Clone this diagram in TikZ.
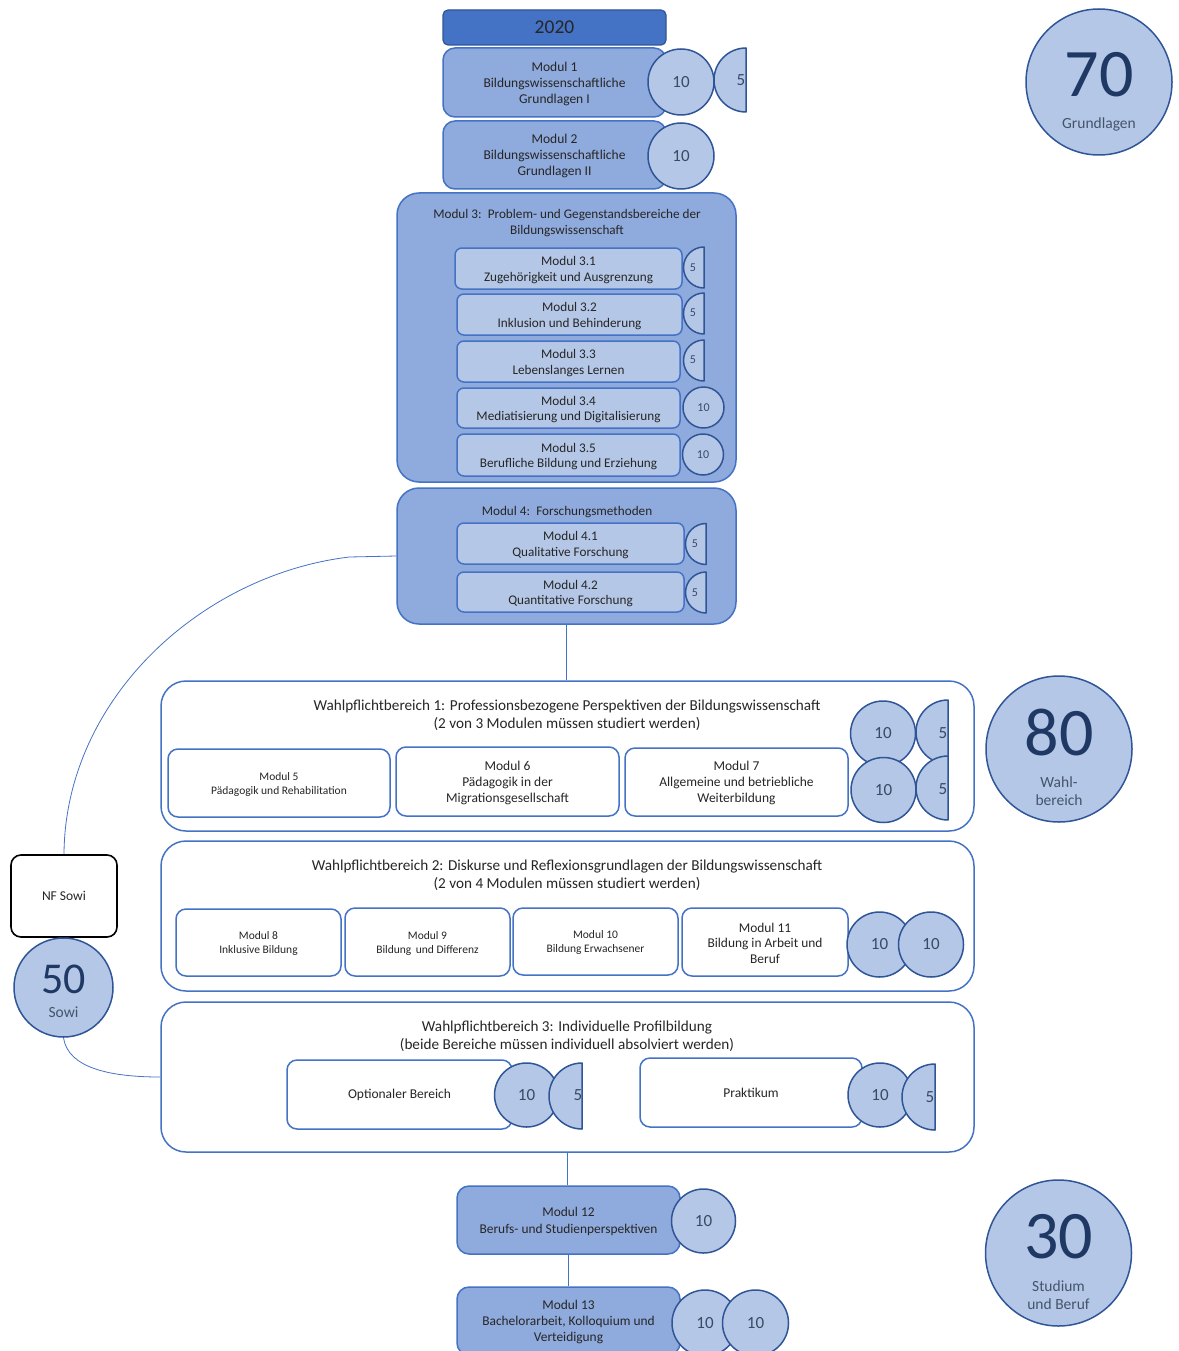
\documentclass[tikz,border=0pt]{standalone}
\usepackage{fontspec}
\setmainfont{Carlito}
\usetikzlibrary{positioning}

\definecolor{hdrblue}{HTML}{4472C4}
\definecolor{edgeblue}{HTML}{2F5597}
\definecolor{modblue}{HTML}{8FAADC}
\definecolor{subblue}{HTML}{B4C7E7}
\definecolor{navy}{HTML}{1F3864}
\definecolor{slate}{HTML}{44546A}
\definecolor{txt}{HTML}{262626}
\definecolor{cptxt}{HTML}{3B4A63}

\newcommand{\fs}[2]{\fontsize{#1}{#2}\selectfont}

\tikzset{
  hdr/.style={draw=edgeblue, fill=hdrblue, rounded corners=5, line width=1.2,
    minimum width=223, minimum height=35, font=\fs{19.5}{22}, text=txt},
  modbox/.style={draw=hdrblue, fill=modblue, rounded corners=12, line width=1.5,
    align=center, text=txt, font=\fs{13.5}{16}, inner sep=0},
  bigbox/.style={draw=hdrblue, fill=modblue, rounded corners=22, line width=1.5},
  subbox/.style={draw=hdrblue, fill=subblue, rounded corners=7, line width=1.5,
    align=center, text=txt, font=\fs{13.2}{15.5}, inner sep=0},
  wpbox/.style={draw=hdrblue, fill=white, rounded corners=25, line width=1.5},
  wbox/.style={draw=hdrblue, fill=white, rounded corners=10, line width=1.5,
    align=center, text=txt, inner sep=0},
  title/.style={align=center, text=txt, inner sep=0},
  cp/.style={circle, draw=edgeblue, fill=subblue, line width=1.5, inner sep=0,
    text=cptxt, font=\fs{17}{20}},
  halfcp/.style={draw=edgeblue, fill=subblue, line width=1.5},
  cptext/.style={text=cptxt, inner sep=0, font=\fs{17}{20}},
  bigcp/.style={circle, draw=edgeblue, fill=subblue, line width=1.5, minimum size=146},
  bignum/.style={text=navy, inner sep=0, font=\fs{68}{68}},
  biglab/.style={text=slate, inner sep=0, align=center, font=\fs{15.5}{18}},
  link/.style={draw=hdrblue, line width=0.8}
}

\begin{document}
\begin{tikzpicture}[x=1pt, y=-1pt, line join=round]
\useasboundingbox (0,0) rectangle (1178,1351);

% Grundlagen
\node[hdr] (y2020) at (554.5,27.5) {2020};
\node[modbox, minimum width=223, minimum height=69] (m1) at (554.5,82.5) {\rule{0pt}{12pt}Modul 1\\Bildungswissenschaftliche\\Grundlagen I};
\node[cp, minimum size=66] (m1_10) at (681,82) {10};
\draw[halfcp] (746,112) arc[start angle=90, end angle=270, radius=32] -- cycle;
\node[cptext] (m1_5) at (741,80) {5};

\node[modbox, minimum width=223, minimum height=68] (m2) at (554.5,155) {\rule{0pt}{12pt}Modul 2\\Bildungswissenschaftliche\\Grundlagen II};
\node[cp, minimum size=66] (m2_10) at (681,156) {10};

% Modul 3
\node[bigbox, minimum width=339, minimum height=289] (m3) at (566.5,337.5) {};
\node[title, font=\fs{13.2}{16}] (m3_title) at (567,223.5) {Modul 3:\, Problem- und Gegenstandsbereiche der\\Bildungswissenschaft};
\node[subbox, minimum width=227, minimum height=41] (m3_1) at (568.5,268.5) {\rule{0pt}{12pt}Modul 3.1\\Zugehörigkeit und Ausgrenzung};
\node[subbox, minimum width=225, minimum height=41] (m3_2) at (569.5,314.5) {\rule{0pt}{12pt}Modul 3.2\\Inklusion und Behinderung};
\node[subbox, minimum width=223, minimum height=41] (m3_3) at (568.5,361.5) {\rule{0pt}{12pt}Modul 3.3\\Lebenslanges Lernen};
\node[subbox, minimum width=223, minimum height=40] (m3_4) at (568.5,408) {\rule{0pt}{12pt}Modul 3.4\\Mediatisierung und Digitalisierung};
\node[subbox, minimum width=223, minimum height=42] (m3_5) at (568.5,455) {\rule{0pt}{12pt}Modul 3.5\\Berufliche Bildung und Erziehung};
\draw[halfcp] (704,288) arc[start angle=90, end angle=270, radius=20.5] -- cycle;
\node[cptext, font=\fs{12}{14}] (m3_1_5) at (693,268) {5};
\draw[halfcp] (704,334) arc[start angle=90, end angle=270, radius=20.5] -- cycle;
\node[cptext, font=\fs{12}{14}] (m3_2_5) at (693,313) {5};
\draw[halfcp] (704,381) arc[start angle=90, end angle=270, radius=20.5] -- cycle;
\node[cptext, font=\fs{12}{14}] (m3_3_5) at (693,360) {5};
\node[cp, minimum size=41, font=\fs{12}{14}] (m3_4_10) at (703.5,407.5) {10};
\node[cp, minimum size=41, font=\fs{12}{14}] (m3_5_10) at (703,454.5) {10};

% Modul 4
\node[bigbox, minimum width=339, minimum height=136] (m4) at (566.5,556) {};
\node[title, font=\fs{13.2}{16}] (m4_title) at (567,512.5) {Modul 4:\, Forschungsmethoden};
\node[subbox, minimum width=227, minimum height=41] (m4_1) at (570.5,543.5) {\rule{0pt}{12pt}Modul 4.1\\Qualitative Forschung};
\node[subbox, minimum width=227, minimum height=40] (m4_2) at (570.5,592) {\rule{0pt}{12pt}Modul 4.2\\Quantitative Forschung};
\draw[halfcp] (706,564.5) arc[start angle=90, end angle=270, radius=20.5] -- cycle;
\node[cptext, font=\fs{12}{14}] (m4_1_5) at (695,544) {5};
\draw[halfcp] (706,613) arc[start angle=90, end angle=270, radius=20.5] -- cycle;
\node[cptext, font=\fs{12}{14}] (m4_2_5) at (695,592.5) {5};

% Wahlpflichtbereich 1
\node[wpbox, minimum width=813, minimum height=150] (wpb1) at (567.5,756) {};
\node[title, font=\fs{15.2}{18}] (wpb1_title) at (567,715) {Wahlpflichtbereich 1: Professionsbezogene Perspektiven der Bildungswissenschaft\\(2 von 3 Modulen müssen studiert werden)};
\node[wbox, minimum width=222, minimum height=68, font=\fs{11.5}{14}] (m5) at (279,783) {\rule{0pt}{10pt}Modul 5\\Pädagogik und Rehabilitation};
\node[wbox, minimum width=223, minimum height=69, font=\fs{13.5}{16}] (m6) at (507.5,781.5) {\rule{0pt}{12pt}Modul 6\\Pädagogik in der\\Migrationsgesellschaft};
\node[wbox, minimum width=223, minimum height=68, font=\fs{13.5}{16}] (m7) at (736.5,782) {\rule{0pt}{12pt}Modul 7\\Allgemeine und betriebliche\\Weiterbildung};
\node[cp, minimum size=65] (wpb1_10a) at (883,733.5) {10};
\draw[halfcp] (948,764) arc[start angle=90, end angle=270, radius=32] -- cycle;
\node[cptext] (wpb1_5a) at (943,733) {5};
\node[cp, minimum size=65] (wpb1_10b) at (883.5,790) {10};
\draw[halfcp] (948,820) arc[start angle=90, end angle=270, radius=32] -- cycle;
\node[cptext] (wpb1_5b) at (943,789) {5};

% Wahlpflichtbereich 2
\node[wpbox, minimum width=813, minimum height=150] (wpb2) at (567.5,916) {};
\node[title, font=\fs{15.2}{18}] (wpb2_title) at (567,875) {Wahlpflichtbereich 2: Diskurse und Reflexionsgrundlagen der Bildungswissenschaft\\(2 von 4 Modulen müssen studiert werden)};
\node[wbox, minimum width=165, minimum height=67, font=\fs{11.5}{14}] (m8) at (258.5,942.5) {\rule{0pt}{10pt}Modul 8\\Inklusive Bildung};
\node[wbox, minimum width=165, minimum height=68, font=\fs{11.5}{14}] (m9) at (427.5,942) {\rule{0pt}{10pt}Modul 9\\Bildung\, und Differenz};
\node[wbox, minimum width=165, minimum height=67, font=\fs{11.5}{14}] (m10) at (595.5,941.5) {\rule{0pt}{10pt}Modul 10\\Bildung Erwachsener};
\node[wbox, minimum width=166, minimum height=68, font=\fs{13.4}{15.5}] (m11) at (765,942) {\rule{0pt}{12pt}Modul 11\\Bildung in Arbeit und\\Beruf};
\node[cp, minimum size=65] (wpb2_10a) at (879.5,944.5) {10};
\node[cp, minimum size=65] (wpb2_10b) at (931,944.5) {10};

% Wahlpflichtbereich 3
\node[wpbox, minimum width=813, minimum height=150] (wpb3) at (567.5,1077) {};
\node[title, font=\fs{15.2}{18}] (wpb3_title) at (567,1036) {Wahlpflichtbereich 3: Individuelle Profilbildung\\(beide Bereiche müssen individuell absolviert werden)};
\node[wbox, minimum width=225, minimum height=69, font=\fs{13.5}{15}] (opt) at (399.5,1094.5) {Optionaler Bereich};
\node[cp, minimum size=64] (opt_10) at (526.5,1095) {10};
\draw[halfcp] (582,1129) arc[start angle=90, end angle=270, radius=33] -- cycle;
\node[cptext] (opt_5) at (578,1095) {5};
\node[wbox, minimum width=222, minimum height=69, font=\fs{13.5}{15}] (prak) at (751,1092.5) {Praktikum};
\node[cp, minimum size=64] (prak_10) at (880,1095) {10};
\draw[halfcp] (935,1130) arc[start angle=90, end angle=270, radius=33] -- cycle;
\node[cptext] (prak_5) at (930,1097) {5};

% Studium und Beruf
\node[modbox, minimum width=223, minimum height=68, font=\fs{13.4}{17}] (m12) at (568.5,1220) {\rule{0pt}{12pt}Modul 12\\Berufs- und Studienperspektiven};
\node[cp, minimum size=64] (m12_10) at (703.5,1221) {10};
\node[modbox, minimum width=223, minimum height=68, font=\fs{13.4}{16}] (m13) at (568.5,1321) {\rule{0pt}{12pt}Modul 13\\Bachelorarbeit, Kolloquium und\\Verteidigung};
\node[cp, minimum size=66] (m13_10a) at (705,1323) {10};
\node[cp, minimum size=66] (m13_10b) at (755.5,1323) {10};

% Nebenfach
\node[draw=black, fill=white, rounded corners=10, line width=1.6, minimum width=106, minimum height=82,
  text=txt, font=\fs{13.5}{16}] (nf) at (64,896) {NF Sowi};
\node[circle, draw=edgeblue, fill=subblue, line width=1.5, minimum size=99] (s50) at (63.5,987.5) {};
\node[bignum, font=\fs{44}{44}] (s50_num) at (63.5,979) {50};
\node[biglab] (s50_lab) at (63.5,1012) {Sowi};

% Summen
\node[bigcp] (g70) at (1099,82) {};
\node[bignum] (g70_num) at (1099,75) {70};
\node[biglab] (g70_lab) at (1099,124) {Grundlagen};
\node[bigcp] (w80) at (1059,749) {};
\node[bignum] (w80_num) at (1059,733) {80};
\node[biglab] (w80_lab) at (1059,791) {Wahl-\\bereich};
\node[bigcp] (s30) at (1058.5,1253) {};
\node[bignum] (s30_num) at (1058.5,1237) {30};
\node[biglab] (s30_lab) at (1058.5,1295) {Studium\\und Beruf};

% Verbindungen
\path[link]
  (m4.south) edge (m4.south |- wpb1.north)
  (wpb3.south) edge (wpb3.south |- m12.north)
  (m12.south) edge (m13.north);
\draw[link] (m4.west) -- ++(-47,1) .. controls (200,575) and (65,700) .. (nf.north);
\draw[link] (s50.south) .. controls (68,1068) and (110,1077) .. (wpb3.west);

\end{tikzpicture}
\end{document}
